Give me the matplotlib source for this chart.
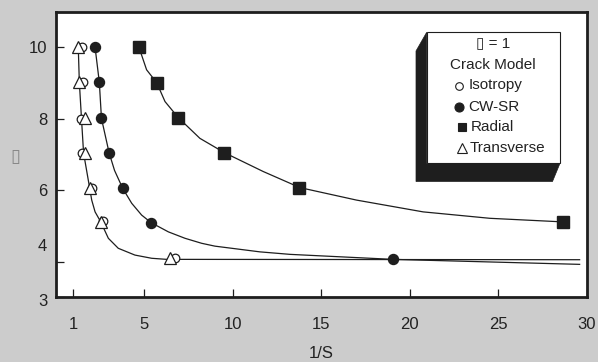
import numpy as np
import matplotlib
matplotlib.use('Agg')
import matplotlib.pyplot as plt
from matplotlib.patches import Polygon, Rectangle
from matplotlib.transforms import ScaledTranslation

plt.rcParams['font.family'] = ['Liberation Sans', 'DejaVu Sans']

# ---- data ----
iso_x = [1.47, 1.53, 1.42, 1.47, 2.04, 2.70, 6.75]
iso_y = [10.02, 9.02, 7.99, 7.05, 6.07, 5.13, 4.09]

trans_x = [1.28, 1.34, 1.66, 1.66, 1.94, 2.55, 6.46]
trans_y = [10.02, 9.04, 8.01, 7.05, 6.07, 5.11, 4.11]

cwsr_x = [2.23, 2.47, 2.56, 3.02, 3.79, 5.37, 19.04]
cwsr_y = [10.0, 9.02, 8.01, 7.05, 6.05, 5.09, 4.06]

radial_x = [4.73, 5.71, 6.93, 9.53, 13.75, 28.65]
radial_y = [10.0, 9.01, 8.03, 7.05, 6.07, 5.11]

# fitted curves
fit_it_x = [1.28, 1.34, 1.46, 1.58, 1.92, 2.04, 2.23, 2.55, 2.98, 3.54, 4.48, 5.43,
            6.27, 29.6]
fit_it_y = [10.01, 9.03, 8.02, 7.04, 6.07, 5.72, 5.39, 5.11, 4.65, 4.37, 4.18, 4.09,
            4.06, 4.05]

fit_cw_x = [2.23, 2.47, 2.59, 3.02, 3.33, 3.79, 4.30, 4.86, 5.39, 6.37, 7.31, 8.25,
            9.0, 11.54, 13.24, 19.04, 29.6]
fit_cw_y = [10.0, 9.02, 8.01, 7.05, 6.55, 6.05, 5.63, 5.30, 5.09, 4.83, 4.65, 4.51,
            4.43, 4.27, 4.20, 4.06, 3.92]

fit_rad_x = [4.73, 5.14, 5.71, 6.18, 6.93, 8.15, 9.53, 11.73, 13.80, 17.00, 20.76,
             24.53, 28.63]
fit_rad_y = [9.97, 9.37, 9.01, 8.48, 8.03, 7.45, 7.05, 6.52, 6.07, 5.72, 5.39,
             5.21, 5.11]

xticks = [1, 5, 10, 15, 20, 25, 30]
yticks = [3, 4, 6, 8, 10]

W, H = 598, 362
BG = '#cccccc'
INK = '#1e1e1e'


def fpx(x, y):
    # pixel position -> figure fraction
    return x / W, 1 - y / H


fig = plt.figure(figsize=(W / 100, H / 100), dpi=100)
fig.patch.set_facecolor(BG)
ax = fig.add_axes([55.6 / W, 1 - 297.2 / H, (586.7 - 55.6) / W, (297.2 - 11.6) / H])
ax.set_facecolor('white')
ax.set_xlim(0, 30)
ax.set_ylim(3, 11)

for fx, fy in [(fit_it_x, fit_it_y), (fit_cw_x, fit_cw_y), (fit_rad_x, fit_rad_y)]:
    ax.plot(fx, fy, color=INK, lw=0.9, zorder=2, solid_joinstyle='round')

ax.plot(iso_x, iso_y, 'o', ms=6.2, mfc='white', mec=INK, mew=0.9, zorder=3)
ax.plot(trans_x, trans_y, '^', ms=8.5, mfc='white', mec=INK, mew=0.9, zorder=4)
ax.plot(cwsr_x, cwsr_y, 'o', ms=7.2, mfc=INK, mec=INK, zorder=3)
ax.plot(radial_x, radial_y, 's', ms=8.3, mfc=INK, mec=INK, zorder=3)

for s in ax.spines.values():
    s.set_linewidth(2.0)
    s.set_color(INK)

ax.set_xticks(xticks)
ax.set_yticks(yticks)
ax.tick_params(direction='in', length=6, width=0.9, color=INK, labelsize=12,
               labelcolor='#222222')
ax.tick_params(axis='x', pad=14)
ax.tick_params(axis='y', pad=6)
for lab in ax.get_yticklabels():
    if lab.get_text() == '4':
        lab.set_transform(lab.get_transform() + ScaledTranslation(0, 0.165, fig.dpi_scale_trans))
    if lab.get_text() == '3':
        lab.set_transform(lab.get_transform() + ScaledTranslation(0, -0.03, fig.dpi_scale_trans))

fig.text(*fpx(321, 353), '1/S', ha='center', va='center', fontsize=12, color='#222222')
fig.text(*fpx(15, 157), '\u25af', ha='center', va='center', fontsize=13,
         color='#888888', family=['DejaVu Sans'])

# ---- legend box with 3D shadow ----
bx0, bx1, by0, by1 = 426.7, 560.0, 32.3, 163.3
shadow = [fpx(bx0, by0), fpx(416, 51), fpx(416, 181.5), fpx(552.5, 181.5),
          fpx(bx1, by1), fpx(bx0, by1)]
ax.add_patch(Polygon(shadow, closed=True, transform=fig.transFigure, facecolor=INK,
                     edgecolor=INK, lw=0.5, clip_on=False, zorder=6))
x0, y0 = fpx(bx0, by1)
ax.add_patch(Rectangle((x0, y0), (bx1 - bx0) / W, (by1 - by0) / H, transform=fig.transFigure,
                       facecolor='white', edgecolor=INK, lw=0.8, clip_on=False, zorder=7))

ax.text(*fpx(493.3, 43.3), '\u25af = 1', transform=fig.transFigure, ha='center',
        va='center', fontsize=11, color='#222222', zorder=8)
ax.text(*fpx(493.3, 65), 'Crack Model', transform=fig.transFigure, ha='center',
        va='center', fontsize=11, color='#222222', zorder=8)

leg_items = [
    ('o', 'white', 5.5, 459.0, 85.5, 468.3, 'Isotropy'),
    ('o', INK, 6.5, 458.5, 106.7, 468.3, 'CW-SR'),
    ('s', INK, 6.3, 462.0, 127.3, 470.7, 'Radial'),
    ('^', 'white', 7.0, 461.5, 148.0, 470.0, 'Transverse'),
]
for mk, fc, ms, mx, my, tx, name in leg_items:
    ax.plot([mx / W], [1 - my / H], mk, ms=ms, mfc=fc, mec=INK, mew=0.8,
            transform=fig.transFigure, clip_on=False, zorder=8)
    ax.text(*fpx(tx, my), name, transform=fig.transFigure, ha='left', va='center',
            fontsize=11, color='#222222', zorder=8)

fig.savefig('out.png', dpi=100, facecolor=BG)
